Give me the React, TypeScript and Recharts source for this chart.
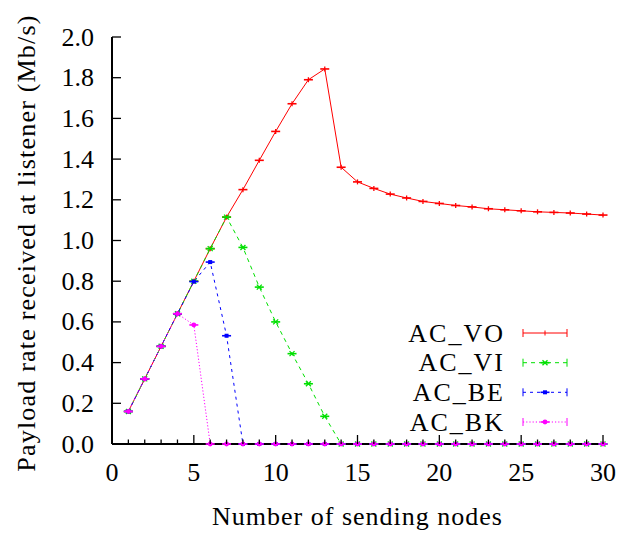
import { LineChart, Line, XAxis, YAxis, Legend } from 'recharts';

// number of sending nodes
const nodes = [1, 2, 3, 4, 5, 6, 7, 8, 9, 10, 11, 12, 13, 14, 15, 16, 17, 18, 19, 20, 21, 22, 23, 24, 25, 26, 27, 28, 29, 30];

// payload rate per access category (Mb/s)
const acVO = [0.16, 0.32, 0.48, 0.64, 0.8, 0.96, 1.115, 1.25, 1.394, 1.536, 1.672, 1.79, 1.843, 1.36, 1.288, 1.256, 1.228, 1.209, 1.192, 1.182, 1.172, 1.165, 1.156, 1.151, 1.146, 1.141, 1.138, 1.135, 1.13, 1.125];
const acVI = [0.16, 0.32, 0.48, 0.64, 0.8, 0.96, 1.115, 0.966, 0.771, 0.6, 0.444, 0.296, 0.136, 0, 0, 0, 0, 0, 0, 0, 0, 0, 0, 0, 0, 0, 0, 0, 0, 0];
const acBE = [0.16, 0.32, 0.48, 0.64, 0.798, 0.894, 0.532, 0, 0, 0, 0, 0, 0, 0, 0, 0, 0, 0, 0, 0, 0, 0, 0, 0, 0, 0, 0, 0, 0, 0];
const acBK = [0.16, 0.32, 0.48, 0.64, 0.585, 0, 0, 0, 0, 0, 0, 0, 0, 0, 0, 0, 0, 0, 0, 0, 0, 0, 0, 0, 0, 0, 0, 0, 0, 0];

const xTicks = [0, 1, 2, 3, 4, 5, 6, 7, 8, 9, 10, 11, 12, 13, 14, 15, 16, 17, 18, 19, 20, 21, 22, 23, 24, 25, 26, 27, 28, 29, 30];
const yTicks = [0, 0.2, 0.4, 0.6, 0.8, 1.0, 1.2, 1.4, 1.6, 1.8, 2.0];

const FONT = "'Liberation Serif', serif";
const txt = { fontFamily: FONT, fontSize: 26 };

const data = nodes.map((n, i) => ({ n, vo: acVO[i], vi: acVI[i], be: acBE[i], bk: acBK[i] }));

type SeriesKey = 'vo' | 'vi' | 'be' | 'bk';

const series: { key: SeriesKey; name: string; color: string; dash?: string }[] = [
  { key: 'vo', name: 'AC_VO', color: '#ff0000' },
  { key: 'vi', name: 'AC_VI', color: '#00e000', dash: '4 4' },
  { key: 'be', name: 'AC_BE', color: '#0000ff', dash: '3 4' },
  { key: 'bk', name: 'AC_BK', color: '#ff00ff', dash: '1.2 2' },
];

// point symbol + flat error bar cap, gnuplot style
function Marker({ kind, cx, cy, color }: { kind: SeriesKey; cx: number; cy: number; color: string }) {
  let sym = null;
  if (kind === 'vo') {
    sym = <line x1={cx} x2={cx} y1={cy - 2.5} y2={cy + 2.5} stroke={color} strokeWidth={1.3} />;
  } else if (kind === 'vi') {
    sym = (
      <path d={`M${cx - 2.5},${cy - 2.5}L${cx + 2.5},${cy + 2.5}M${cx - 2.5},${cy + 2.5}L${cx + 2.5},${cy - 2.5}`} stroke={color} strokeWidth={1.3} />
    );
  } else if (kind === 'be') {
    sym = <rect x={cx - 2} y={cy - 2} width={4} height={4} fill={color} />;
  } else {
    sym = <circle cx={cx} cy={cy} r={2.4} fill={color} />;
  }
  return (
    <g>
      <line x1={cx - 4.5} x2={cx + 4.5} y1={cy} y2={cy} stroke={color} strokeWidth={1.6} />
      {sym}
    </g>
  );
}

const makeDot = (kind: SeriesKey, color: string) => (props: any) => {
  const { cx, cy, index } = props;
  if (cx == null || cy == null) return <g key={index} />;
  return <Marker key={index} kind={kind} cx={cx} cy={cy} color={color} />;
};

const BottomTick = (props: any) => {
  const { x, y, payload } = props;
  const major = payload.value % 5 === 0;
  return (
    <g>
      <line x1={x} x2={x} y1={y} y2={y - (major ? 9 : 4.5)} stroke="#000" strokeWidth={1.3} />
      {major && (
        <text x={x} y={y + 37} textAnchor="middle" style={txt} fill="#000">
          {payload.value}
        </text>
      )}
    </g>
  );
};

const TopTick = (props: any) => {
  const { x, y, payload } = props;
  const major = payload.value % 5 === 0;
  return <line x1={x} x2={x} y1={y} y2={y + (major ? 9 : 4.5)} stroke="#000" strokeWidth={1.3} />;
};

const LeftTick = (props: any) => {
  const { x, y, payload } = props;
  return (
    <g>
      <line x1={x} x2={x + 9} y1={y} y2={y} stroke="#000" strokeWidth={1.3} />
      <text x={x - 18} y={y + 8.5} textAnchor="end" style={txt} fill="#000">
        {payload.value.toFixed(1)}
      </text>
    </g>
  );
};

const RightTick = (props: any) => {
  const { x, y } = props;
  return <line x1={x} x2={x - 9} y1={y} y2={y} stroke="#000" strokeWidth={1.3} />;
};

const YLabel = (props: any) => {
  const vb = props.viewBox;
  const cx = vb.x + 35;
  const cy = vb.y + vb.height / 2 + 2.5;
  return (
    <text x={cx} y={cy} transform={`rotate(-90, ${cx}, ${cy})`} textAnchor="middle" style={{ ...txt, letterSpacing: 1.2 }} fill="#000">
      Payload rate received at listener (Mb/s)
    </text>
  );
};

const XLabel = (props: any) => {
  const vb = props.viewBox;
  return (
    <text x={vb.x + vb.width / 2} y={vb.y + 81} textAnchor="middle" style={{ ...txt, letterSpacing: 1 }} fill="#000">
      Number of sending nodes
    </text>
  );
};

const LegendBox = () => {
  const rowY = [15, 44.7, 74.3, 104];
  return (
    <svg width={200} height={125} style={{ overflow: 'visible' }}>
      {series.map((s, i) => {
        const y = rowY[i];
        return (
          <g key={s.key}>
            <text x={125} y={y + 8.5} textAnchor="end" style={{ ...txt, letterSpacing: 2 }} fill="#000">
              {s.name}
            </text>
            <line x1={143} x2={187} y1={y} y2={y} stroke={s.color} strokeWidth={1} strokeDasharray={s.dash} />
            <line x1={143} x2={143} y1={y - 4} y2={y + 4} stroke={s.color} strokeWidth={1} />
            <line x1={187} x2={187} y1={y - 4} y2={y + 4} stroke={s.color} strokeWidth={1} />
            {s.key === 'vo' ? (
              <line x1={165} x2={165} y1={y - 2.5} y2={y + 2.5} stroke={s.color} strokeWidth={1} />
            ) : (
              <Marker kind={s.key} cx={165} cy={y} color={s.color} />
            )}
          </g>
        );
      })}
    </svg>
  );
};

export default function App() {
  return (
    <div style={{ position: 'absolute', left: 0, top: 0, background: '#fff', fontFamily: FONT }}>
      <LineChart width={633} height={534} data={data} margin={{ top: 37, right: 30, bottom: 0, left: 0 }}>
        <XAxis
          xAxisId="b"
          dataKey="n"
          type="number"
          domain={[0, 30]}
          ticks={xTicks}
          interval={0}
          height={90}
          tickSize={0}
          tickMargin={0}
          tickLine={false}
          axisLine={{ stroke: '#000', strokeWidth: 2 }}
          tick={<BottomTick />}
          label={<XLabel />}
        />
        <XAxis
          xAxisId="t"
          orientation="top"
          dataKey="n"
          type="number"
          domain={[0, 30]}
          ticks={xTicks}
          interval={0}
          height={0}
          tickSize={0}
          tickMargin={0}
          tickLine={false}
          axisLine={{ stroke: '#000', strokeWidth: 2 }}
          tick={<TopTick />}
        />
        <YAxis
          yAxisId="l"
          type="number"
          domain={[0, 2]}
          ticks={yTicks}
          interval={0}
          width={112}
          tickSize={0}
          tickMargin={0}
          tickLine={false}
          axisLine={{ stroke: '#000', strokeWidth: 2 }}
          tick={<LeftTick />}
          label={<YLabel />}
        />
        <YAxis
          yAxisId="r"
          orientation="right"
          type="number"
          domain={[0, 2]}
          ticks={yTicks}
          interval={0}
          width={0}
          tickSize={0}
          tickMargin={0}
          tickLine={false}
          axisLine={{ stroke: '#000', strokeWidth: 2 }}
          tick={<RightTick />}
        />
        <Legend
          layout="vertical"
          align="center"
          verticalAlign="middle"
          content={<LegendBox />}
          wrapperStyle={{ left: 380, top: 318, width: 200, height: 125 }}
        />
        {series.map((s) => (
          <Line
            key={s.key}
            xAxisId="b"
            yAxisId="l"
            type="linear"
            dataKey={s.key}
            name={s.name}
            stroke={s.color}
            strokeWidth={1}
            strokeDasharray={s.dash}
            dot={makeDot(s.key, s.color)}
            activeDot={false}
            isAnimationActive={false}
          />
        ))}
      </LineChart>
    </div>
  );
}
